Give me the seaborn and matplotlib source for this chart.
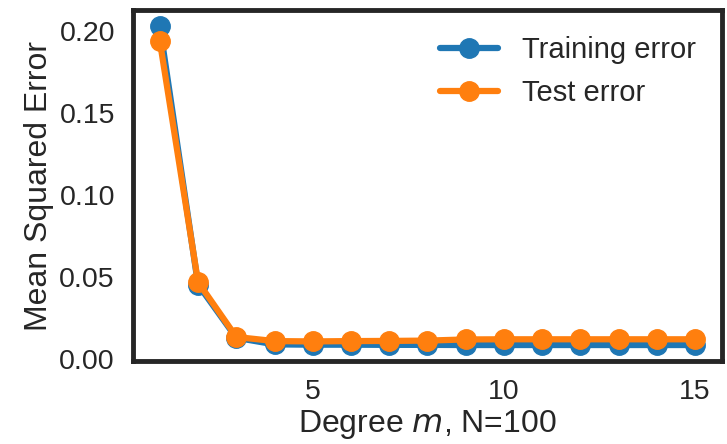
import matplotlib
matplotlib.use("Agg")
import matplotlib.pyplot as plt
import seaborn as sns
import pandas as pd

# ── Data ──────────────────────────────────────────────────
degrees = list(range(1, 16))
train_err = [0.203, 0.0455, 0.013, 0.009, 0.0088, 0.0088, 0.0087, 0.0087,
             0.0086, 0.0086, 0.0086, 0.0086, 0.0086, 0.0086, 0.0086]
test_err = [0.194, 0.047, 0.0135, 0.011, 0.0108, 0.0110, 0.0111, 0.0113,
            0.0120, 0.0121, 0.0121, 0.0121, 0.0121, 0.0121, 0.0121]

df = pd.DataFrame({
    "degree": degrees * 2,
    "mse": train_err + test_err,
    "kind": ["Training error"] * len(degrees) + ["Test error"] * len(degrees),
})

# ── Plot ──────────────────────────────────────────────────
sns.set_theme(style="white")
plt.rcParams["font.family"] = ["Liberation Sans", "DejaVu Sans"]
plt.rcParams["axes.edgecolor"] = "#262626"

fig = plt.figure(figsize=(7.27, 4.44), dpi=100)
ax = fig.add_axes([0.183, 0.187, 0.810, 0.790])

colors = sns.color_palette("tab10")
for kind, c in zip(["Training error", "Test error"], colors[:2]):
    sub = df[df["kind"] == kind]
    ax.plot(sub["degree"], sub["mse"], marker="o", color=c, lw=4.5,
            markersize=14, label=kind)

ax.set_xticks([5, 10, 15])
ax.set_yticks([0.0, 0.05, 0.10, 0.15, 0.20])
ax.set_yticklabels(["0.00", "0.05", "0.10", "0.15", "0.20"])
ax.tick_params(labelsize=20.5, colors="#262626", length=0, pad=13)
ax.set_xlabel("Degree $m$, N=100", fontsize=23, color="#262626", labelpad=2)
ax.set_ylabel("Mean Squared Error", fontsize=23, color="#262626", labelpad=4)
for s in ax.spines.values():
    s.set_linewidth(3.5)
leg = ax.legend(frameon=False, fontsize=21, loc="upper right")

fig.savefig("out.png", dpi=100)
